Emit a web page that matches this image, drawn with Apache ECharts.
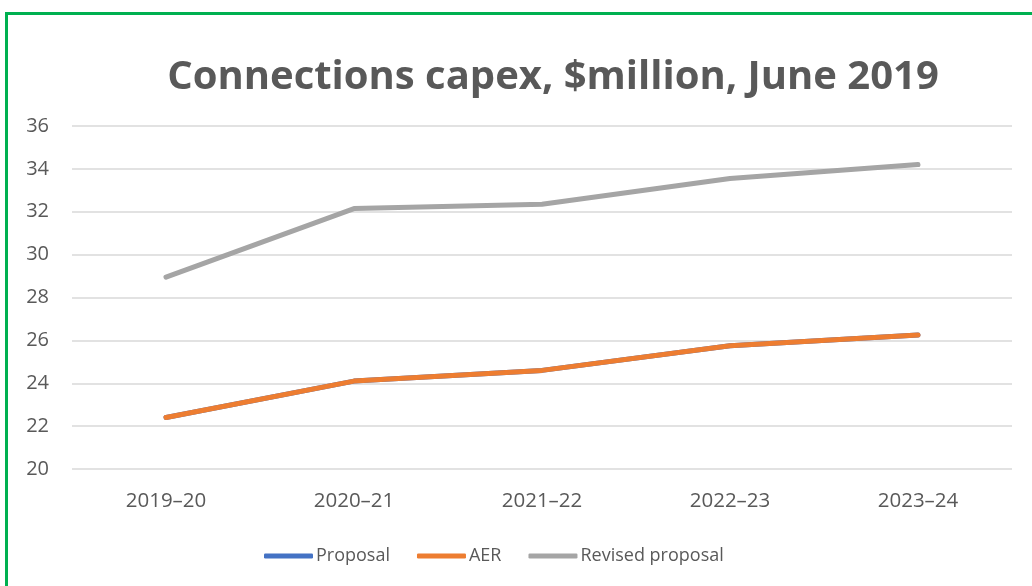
<!DOCTYPE html>
<html>
<head>
<meta charset="utf-8">
<script src="https://cdn.jsdelivr.net/npm/echarts@6/dist/echarts.min.js"></script>
<style>
  html, body { margin: 0; padding: 0; background: #fff; overflow: hidden; }
  #frame {
    position: absolute; left: 5px; top: 12px; width: 1040px; height: 600px;
    border: 3px solid #00B050; box-sizing: border-box;
  }
  #chart { position: absolute; left: 0; top: 0; width: 1032px; height: 586px; }
</style>
</head>
<body>
<div id="frame"></div>
<div id="chart"></div>
<script>
// Connections capex by regulatory year, $million (June 2019 dollars)
const years = ['2019–20', '2020–21', '2021–22', '2022–23', '2023–24'];
const proposal = [22.4, 24.1, 24.6, 25.75, 26.25];
const aer = [22.4, 24.1, 24.6, 25.75, 26.25];
const revisedProposal = [28.95, 32.15, 32.35, 33.55, 34.2];
const yTicks = { min: 20, max: 36, step: 2 };

const FONT = '"Open Sans", "DejaVu Sans", sans-serif';
const TEXT = '#595959';

function lineSeries(name, data, color) {
  return {
    name: name,
    type: 'line',
    data: data,
    showSymbol: false,
    symbol: 'none',
    lineStyle: { color: color, width: 5, cap: 'round', join: 'round' },
    itemStyle: { color: color },
    emphasis: { disabled: true }
  };
}

const chart = echarts.init(document.getElementById('chart'), null, { renderer: 'canvas' });
chart.setOption({
  animation: false,
  backgroundColor: 'transparent',
  title: {
    text: 'Connections capex, $million, June 2019',
    left: 548,
    textAlign: 'center',
    top: 53,
    textStyle: { fontFamily: FONT, fontWeight: 'bold', fontSize: 40, color: TEXT }
  },
  grid: { left: 72, right: 20, top: 126, bottom: 117, containLabel: false },
  xAxis: {
    type: 'category',
    data: years,
    boundaryGap: true,
    axisLine: { show: false },
    axisTick: { show: false },
    axisLabel: { color: TEXT, fontFamily: FONT, fontSize: 20.5, margin: 22 }
  },
  yAxis: {
    type: 'value',
    min: yTicks.min,
    max: yTicks.max,
    interval: yTicks.step,
    axisLine: { show: false },
    axisTick: { show: false },
    axisLabel: { color: TEXT, fontFamily: FONT, fontSize: 20, margin: 23 },
    splitLine: { lineStyle: { color: '#D9D9D9', width: 1.5 } }
  },
  legend: {
    left: 259,
    top: 542,
    itemWidth: 49,
    itemHeight: 5,
    itemGap: 27,
    icon: 'roundRect',
    textStyle: { color: TEXT, fontFamily: FONT, fontSize: 18, padding: [0, 0, 0, -2] },
    data: ['Proposal', 'AER', 'Revised proposal']
  },
  series: [
    lineSeries('Proposal', proposal, '#4472C4'),
    lineSeries('AER', aer, '#ED7D31'),
    lineSeries('Revised proposal', revisedProposal, '#A5A5A5')
  ]
});
</script>
</body>
</html>
